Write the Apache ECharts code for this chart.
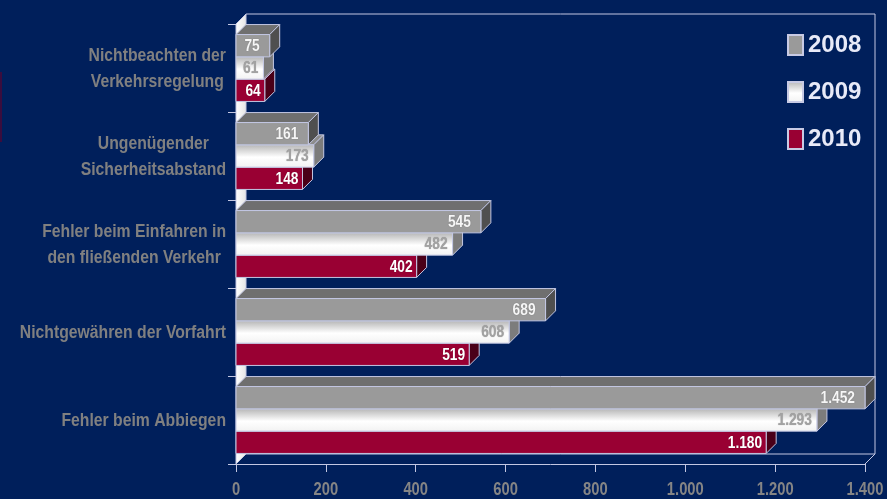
<!DOCTYPE html>
<html>
<head>
<meta charset="utf-8">
<script src="https://cdn.jsdelivr.net/npm/echarts@6/dist/echarts.min.js"></script>
<style>
html,body{margin:0;padding:0;background:#001f5b;}
#chart{width:887px;height:499px;}
</style>
</head>
<body>
<div id="chart"></div>
<script>
const categories = [
  'Nichtbeachten der\nVerkehrsregelung',
  'Ungenügender\nSicherheitsabstand',
  'Fehler beim Einfahren in\nden fließenden Verkehr',
  'Nichtgewähren der Vorfahrt',
  'Fehler beim Abbiegen'
];
const years = ['2008', '2009', '2010'];
const values2008 = [75, 161, 545, 689, 1452];
const values2009 = [61, 173, 482, 608, 1293];
const values2010 = [64, 148, 402, 519, 1180];
const axisMin = 0, axisMax = 1400, axisInterval = 200;

const FONT = "'Liberation Sans',Arial,sans-serif";
const NARROW_SCALE = 0.86;
const DEPTH = 10;
const EDGE = '#c3c7e3';

function fmt(v) { return String(v).replace(/\B(?=(\d{3})+(?!\d))/g, '.'); }

const measureCtx = document.createElement('canvas').getContext('2d');
function blockWidth(text, font) {
  measureCtx.font = font;
  return Math.max.apply(null, text.split('\n').map(l => measureCtx.measureText(l).width));
}

const whiteGrad = new echarts.graphic.LinearGradient(0, 0, 0, 1, [
  {offset: 0, color: '#b4b4b4'}, {offset: 0.55, color: '#ffffff'}, {offset: 1, color: '#f2f2f2'}
]);

const styles = [
  {front: '#9a9a9a', top: '#6f6f6f', side: '#4f4f4f', label: '#f6f6f6'},
  {front: whiteGrad, top: '#8c8c8c', side: '#7c7c7c', label: '#a2a2a2'},
  {front: '#990033', top: '#6a0024', side: '#4a0018', label: '#ffffff'}
];
const labelPad = [10, 5, 4];

function makeRender(k) {
  return function (params, api) {
    const val = api.value(0);
    const cat = api.value(1);
    const band = api.size([0, 1])[1];
    const groupH = band * 0.76;
    const bh = groupH / 3;
    const c0 = api.coord([axisMin, cat]);
    const x0 = c0[0];
    const x1 = api.coord([Math.min(val, axisMax), cat])[0];
    const yTop = c0[1] - groupH / 2 + k * bh;
    const d = DEPTH;
    const st = styles[k];
    return {
      type: 'group',
      children: [
        {type: 'polygon', shape: {points: [[x0, yTop], [x0 + d, yTop - d], [x1 + d, yTop - d], [x1, yTop]]},
          style: {fill: st.top, stroke: EDGE, lineWidth: 1}},
        {type: 'polygon', shape: {points: [[x1, yTop], [x1 + d, yTop - d], [x1 + d, yTop + bh - d], [x1, yTop + bh]]},
          style: {fill: st.side, stroke: EDGE, lineWidth: 1}},
        {type: 'rect', shape: {x: x0, y: yTop, width: x1 - x0, height: bh},
          style: {fill: st.front, stroke: EDGE, lineWidth: 1}},
        {type: 'text', z2: 10, x: x1 - labelPad[k], y: yTop + bh / 2 + 1, scaleX: NARROW_SCALE,
          style: {text: fmt(val), x: 0, y: 0,
          align: 'right', verticalAlign: 'middle', fill: st.label,
          font: 'bold 16px ' + FONT,
          textShadowColor: 'rgba(0,0,0,0.35)', textShadowBlur: 1}}
      ]
    };
  };
}

function frameRender(params, api) {
  const cs = params.coordSys;
  const x = cs.x, y = cs.y, w = cs.width, h = cs.height, d = DEPTH;
  const children = [
    {type: 'polygon', shape: {points: [[x, y], [x + d, y - d], [x + d, y + h - d], [x, y + h]]},
      style: {fill: new echarts.graphic.LinearGradient(0, 0, 1, 0, [
        {offset: 0, color: '#ffffff'}, {offset: 1, color: '#e4e4e4'}]), stroke: EDGE, lineWidth: 1}},
    {type: 'polyline', shape: {points: [[x + d, y - d], [x + w + d, y - d], [x + w + d, y + h - d], [x + d, y + h - d]]},
      style: {fill: null, stroke: EDGE, lineWidth: 1}},
    {type: 'line', shape: {x1: x + w, y1: y + h, x2: x + w + d, y2: y + h - d},
      style: {stroke: EDGE, lineWidth: 1}}
  ];
  for (let v = axisMin; v <= axisMax; v += axisInterval) {
    const px = api.coord([v, 0])[0];
    children.push({type: 'text', x: px, y: y + h + 17, scaleX: 0.82,
      style: {text: fmt(v), x: 0, y: 0, align: 'center', verticalAlign: 'top',
        fill: '#858585', font: 'bold 18px ' + FONT}});
  }
  return {type: 'group', children: children};
}

const CAT_FONT = 'bold 18px ' + FONT;
function catLabelRender(params, api) {
  const idx = api.value(1);
  const c = api.coord([axisMin, idx]);
  const text = categories[idx];
  const bw = blockWidth(text, CAT_FONT) * 0.875;
  return {type: 'text', x: c[0] - 10 - bw / 2, y: c[1] + 1, scaleX: 0.875,
    style: {text: text, x: 0, y: 0, align: 'center', verticalAlign: 'middle',
      fill: '#808080', font: CAT_FONT, lineHeight: 26}};
}

function seriesData(arr) { return arr.map((v, i) => [v, i]); }
const allValues = [values2008, values2009, values2010];

const series = [{
  name: 'frame', type: 'custom', z: 1, silent: true,
  renderItem: frameRender, data: [[0, 0]], encode: {x: 0, y: 1}
}, {
  name: 'catLabels', type: 'custom', z: 1, silent: true,
  renderItem: catLabelRender, data: categories.map((c, i) => [axisMin, i]), encode: {x: 0, y: 1}
}];
years.forEach((yr, k) => {
  series.push({
    name: yr, type: 'custom', z: 5 - k,
    renderItem: makeRender(k),
    encode: {x: 0, y: 1},
    itemStyle: {color: k === 1 ? whiteGrad : styles[k].front, borderColor: '#c8cae4', borderWidth: 1},
    data: seriesData(allValues[k])
  });
});

const chart = echarts.init(document.getElementById('chart'), null, {renderer: 'canvas'});
chart.setOption({
  backgroundColor: '#001f5b',
  animation: false,
  graphic: [{type: 'rect', left: 0, top: 72, shape: {width: 2, height: 70}, style: {fill: '#3a0d3e'}}],
  grid: {left: 236, right: 22, top: 24, bottom: 35, containLabel: false, outerBoundsMode: 'none'},
  legend: {
    orient: 'vertical', left: 787, top: 33, padding: 0,
    data: years, icon: 'rect', itemWidth: 15, itemHeight: 20, itemGap: 23,
    textStyle: {color: '#e8eaf8', fontSize: 24, fontWeight: 'bold', fontFamily: FONT, lineHeight: 20}
  },
  xAxis: {
    type: 'value', min: axisMin, max: axisMax, interval: axisInterval,
    axisLine: {show: true, lineStyle: {color: EDGE, width: 1}},
    axisTick: {show: true, length: 8, lineStyle: {color: EDGE}},
    splitLine: {show: false},
    axisLabel: {show: false}
  },
  yAxis: {
    type: 'category', data: categories, inverse: true,
    axisLine: {show: true, lineStyle: {color: EDGE, width: 1}},
    axisTick: {show: true, length: 8, lineStyle: {color: EDGE}},
    axisLabel: {show: false}
  },
  series: series
});
</script>
</body>
</html>
